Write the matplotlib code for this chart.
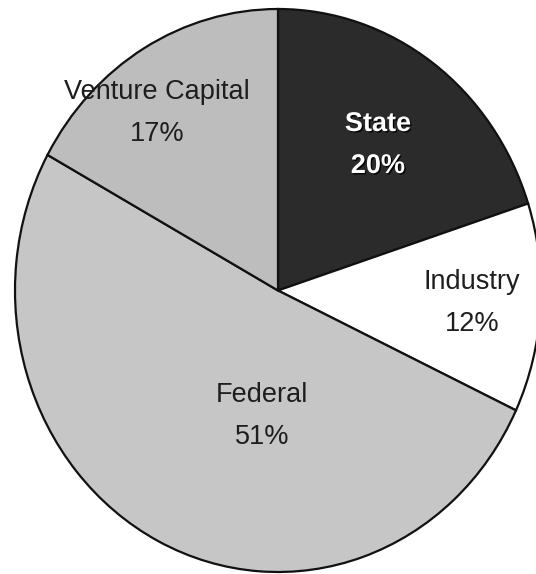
import matplotlib
matplotlib.use("Agg")
import matplotlib.pyplot as plt
import matplotlib.patheffects as pe

categories = ["State", "Industry", "Federal", "Venture Capital"]
shares = [20, 12, 51, 17]
colors = ["#2b2b2b", "#ffffff", "#c6c6c6", "#bdbdbd"]

fig = plt.figure(figsize=(5.36, 5.74), dpi=100)
fig.patch.set_facecolor("white")
ax = fig.add_axes([0, 0, 1, 1])

wedges, _ = ax.pie(shares, colors=colors, startangle=90, counterclock=False,
                   radius=1.0, center=(0, 0),
                   wedgeprops=dict(edgecolor="#111111", linewidth=1.6))
ax.set_aspect("auto")
ax.set_xlim(-1.057, 0.981)
ax.set_ylim(-1.0071, 1.0320)
ax.axis("off")

fam = ["Liberation Sans", "DejaVu Sans"]

def px(x, y):
    # convert pixel position (from top-left) to data coords
    return ((x - 278) / 263.0, (290.5 - y) / 281.5)

label_pos = {
    "Venture Capital": (157, 113),
    "State": (378, 145),
    "Industry": (472, 303),
    "Federal": (262, 416),
}

for cat, val in zip(categories, shares):
    x, y = px(*label_pos[cat])
    if cat == "State":
        ax.text(x, y, f"{cat}\n{val}%", ha="center", va="center",
                fontsize=19.5, fontweight="bold", color="white", family=fam,
                linespacing=1.8,
                path_effects=[pe.withSimplePatchShadow(offset=(1, -1), shadow_rgbFace="black", alpha=0.9)])
    else:
        ax.text(x, y, f"{cat}\n{val}%", ha="center", va="center",
                fontsize=19.5, color="#1e1e1e", family=fam, linespacing=1.8)

fig.savefig("out.png", dpi=100)
